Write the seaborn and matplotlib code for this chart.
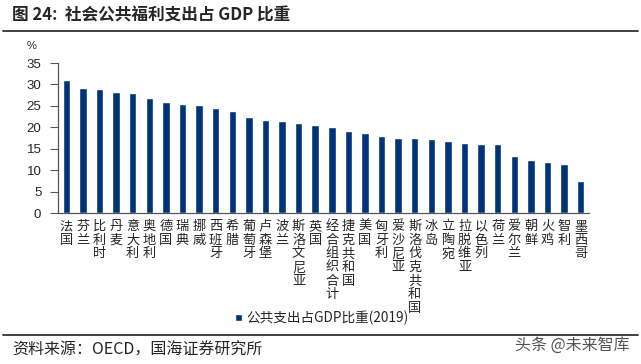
import matplotlib
matplotlib.use("Agg")
import matplotlib.pyplot as plt
import seaborn as sns
from matplotlib.lines import Line2D

countries = ["法国", "芬兰", "比利时", "丹麦", "意大利", "奥地利", "德国", "瑞典",
             "挪威", "西班牙", "希腊", "葡萄牙", "卢森堡", "波兰", "斯洛文尼亚", "英国",
             "经合组织合计", "捷克共和国", "美国", "匈牙利", "爱沙尼亚", "斯洛伐克共和国",
             "冰岛", "立陶宛", "拉脱维亚", "以色列", "荷兰", "爱尔兰", "朝鲜", "火鸡",
             "智利", "墨西哥"]
share = [31.0, 29.1, 28.9, 28.2, 28.1, 26.9, 25.9, 25.5,
         25.3, 24.6, 23.9, 22.5, 21.6, 21.4, 21.1, 20.6,
         20.0, 19.1, 18.7, 18.0, 17.6, 17.6,
         17.3, 16.7, 16.4, 16.2, 16.0, 13.4, 12.3, 12.0,
         11.4, 7.5]
series_name = "公共支出占GDP比重(2019)"
yticks = [0, 5, 10, 15, 20, 25, 30, 35]

sns.set_style("white")
plt.rcParams['font.family'] = ['Noto Sans CJK SC', 'DejaVu Sans']

W, H = 641, 364
fig = plt.figure(figsize=(W / 100, H / 100), dpi=100)
ax = fig.add_axes([58 / W, 1 - 213 / H, (589 - 58) / W, 150 / H])

navy = "#003478"
sns.barplot(x=countries, y=share, color=navy, width=0.45, saturation=1,
            label=series_name, ax=ax)

ax.set_ylim(0, 35)
ax.set_xlim(-0.5, len(countries) - 0.5)
ax.set_yticks(yticks)
ax.set_yticklabels([str(v) for v in yticks], fontsize=9.5, family='Liberation Sans')
ax.set_xticks(range(len(countries)))
ax.set_xticklabels(["\n".join(c) for c in countries], fontsize=9.5,
                   va='top', linespacing=1.07)
ax.set_xticks([i - 0.5 for i in range(len(countries) + 1)], minor=True)
ax.tick_params(axis='x', which='major', length=0, pad=5)
ax.tick_params(axis='x', which='minor', length=4, direction='out', color='#555555')
ax.tick_params(axis='y', length=6, direction='out', color='#555555', pad=6, left=True)
for s in ['top', 'right']:
    ax.spines[s].set_visible(False)
for s in ['left', 'bottom']:
    ax.spines[s].set_color('#555555')
    ax.spines[s].set_linewidth(0.9)
ax.set_xlabel("")
ax.set_ylabel("")

fig.text(32 / W, 1 - 46 / H, "%", fontsize=8, ha='center', va='center',
         family='Liberation Sans')

ax.legend(loc='center', bbox_to_anchor=(322 / W, 1 - 318 / H),
          bbox_transform=fig.transFigure, frameon=False, fontsize=9.8,
          handlelength=0.5, handleheight=0.5, handletextpad=0.3)

fig.text(12 / W, 1 - 15 / H, "图 24:  社会公共福利支出占 GDP 比重", fontsize=12,
         fontweight='bold', ha='left', va='center')
fig.add_artist(Line2D([3 / W, 638 / W], [1 - 31 / H, 1 - 31 / H], color='#333333', lw=1.3))
fig.add_artist(Line2D([3 / W, 638 / W], [1 - 335 / H, 1 - 335 / H], color='#333333', lw=1.3))
fig.text(12 / W, 1 - 350 / H, "资料来源：OECD，国海证券研究所", fontsize=11.5,
         ha='left', va='center')
fig.text(572 / W, 1 - 345 / H, "头条 @未来智库", fontsize=11.5, color='#555555',
         ha='center', va='center')

fig.savefig("out.png", dpi=100)
